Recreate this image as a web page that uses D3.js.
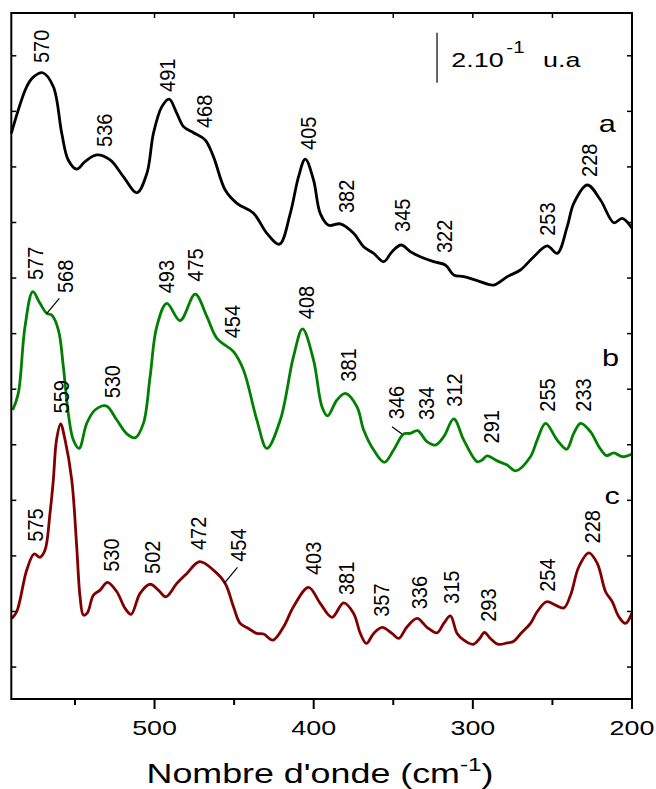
<!DOCTYPE html>
<html><head><meta charset="utf-8">
<script src="https://cdn.jsdelivr.net/npm/d3@7/dist/d3.min.js"></script>
<style>body{margin:0;background:#fff}svg{display:block}text{font-family:"Liberation Sans",Arial,sans-serif;fill:#000}</style>
</head><body><svg id="c" width="656" height="789"></svg>
<script>
// ---- data: [wavenumber (cm-1), intensity (u.a.)] ----
const seriesA = [[590,1.921],[580.3,2.089],[576.2,2.123],[570.3,2.139],[563.6,2.089],[558.3,1.921],[554.2,1.825],[548.9,1.792],[543.7,1.819],[536.3,1.843],[527.9,1.825],[519.6,1.765],[511.1,1.707],[504.8,1.777],[500.7,1.921],[495.4,2.017],[490.8,2.044],[486,1.993],[481.8,1.945],[475.5,1.923],[468.2,1.897],[463,1.837],[455.6,1.717],[448.2,1.669],[437.8,1.633],[429.4,1.561],[421.5,1.522],[414.7,1.633],[409.5,1.765],[405.3,1.828],[400.1,1.753],[395.9,1.633],[390.6,1.590],[383.3,1.595],[374.9,1.561],[368.6,1.513],[362.3,1.489],[356,1.459],[350.8,1.495],[345,1.519],[339.3,1.495],[333,1.477],[324.6,1.459],[317.3,1.447],[312,1.411],[305.7,1.405],[297.3,1.391],[286.9,1.375],[278.4,1.405],[270.1,1.429],[261.7,1.477],[253.3,1.516],[247,1.489],[240.7,1.585],[236.6,1.669],[228.1,1.735],[219.8,1.681],[211.4,1.599],[206.1,1.615],[200,1.579]];
const seriesB = [[589.1,0.925],[585.6,0.985],[581.4,1.225],[576.5,1.351],[572,1.309],[567.7,1.273],[564.6,1.267],[560.4,1.213],[557.3,1.081],[554.2,0.913],[551,0.817],[547.4,0.787],[542.6,0.877],[537.4,0.925],[530.4,0.940],[523.7,0.889],[517.4,0.839],[512.2,0.825],[507,0.877],[502.8,1.045],[498.6,1.225],[492.3,1.309],[483.9,1.247],[474.5,1.342],[467.1,1.261],[460.8,1.183],[450.4,1.135],[444.1,1.069],[435.7,0.889],[429.4,0.787],[421,0.889],[412.7,1.117],[407,1.217],[400.1,1.105],[394.8,0.937],[391.3,0.904],[385.4,0.961],[380.1,0.985],[372.8,0.937],[368.6,0.853],[362.3,0.781],[355.6,0.737],[349.8,0.781],[343.5,0.839],[339.3,0.841],[334.7,0.851],[328.8,0.811],[323.5,0.799],[318.3,0.829],[312,0.893],[305.7,0.817],[297.3,0.739],[294.2,0.745],[291,0.760],[284.7,0.742],[278.4,0.727],[273.2,0.706],[263.8,0.757],[259.6,0.817],[254.3,0.877],[247,0.817],[241.1,0.784],[236.6,0.841],[232.3,0.877],[226.1,0.847],[220.8,0.793],[216,0.761],[211.4,0.771],[206.1,0.757],[200,0.767]];
const seriesC = [[589.7,0.175],[586.6,0.199],[580.3,0.349],[575.7,0.407],[572,0.395],[568.8,0.421],[565.7,0.553],[563.6,0.673],[561.6,0.817],[559,0.875],[556.2,0.817],[552,0.673],[548.9,0.433],[546.8,0.253],[544.7,0.187],[542.2,0.195],[538.4,0.259],[534.2,0.277],[529.6,0.305],[523.7,0.271],[518.5,0.211],[514.7,0.190],[509.1,0.265],[502.8,0.298],[497.6,0.277],[492.9,0.253],[486,0.301],[479.7,0.337],[471.8,0.379],[463,0.349],[455.6,0.301],[450.4,0.217],[446.2,0.157],[441,0.139],[435.7,0.121],[431.5,0.119],[425.6,0.097],[418.9,0.145],[412.7,0.217],[403.2,0.287],[395.9,0.229],[388.5,0.179],[381.2,0.231],[374.9,0.193],[370.7,0.121],[366.9,0.085],[362.3,0.121],[357,0.143],[350.8,0.121],[346.6,0.103],[341.3,0.145],[335,0.175],[328.8,0.143],[322.5,0.123],[318.3,0.157],[314.1,0.184],[309.9,0.121],[305.7,0.097],[299.8,0.082],[295.7,0.103],[292.7,0.125],[289,0.103],[284.1,0.082],[278.4,0.087],[274.3,0.093],[270.1,0.119],[263.8,0.157],[259.6,0.199],[253.7,0.235],[248.1,0.223],[242.8,0.213],[238.6,0.259],[233.4,0.361],[227.1,0.411],[221.8,0.373],[216.6,0.271],[212.4,0.235],[208.3,0.181],[204.1,0.157],[200,0.195]];

const labelsA = [["570",571.3,2.174],["536",531.7,1.872],["491",491.8,2.070],["468",469,1.940],["405",403.7,1.861],["382",379.8,1.634],["345",344.3,1.566],["322",318,1.490],["253",253.3,1.552],["228",226.7,1.764]];
const labelsB = [["577",575.1,1.393],["568",556.2,1.346],["530",526.9,0.967],["493",492.5,1.345],["475",474.5,1.387],["454",451.4,1.183],["408",405,1.252],["381",378.2,1.027],["346",348.2,0.892],["334",329.3,0.889],["312",312,0.937],["291",288.3,0.805],["255",253.5,0.919],["233",230.5,0.919]];
const labelsC = [["559",558.9,0.913],["575",575.1,0.451],["530",527.4,0.343],["502",501.2,0.335],["472",472.4,0.421],["454",447.2,0.379],["403",400.3,0.331],["381",379.3,0.259],["357",357.9,0.181],["336",333.7,0.208],["315",313.5,0.227],["293",290.3,0.163],["254",253.5,0.271],["228",224.8,0.445]];
const leaders = [[[567.7,1.273],[559.8,1.327]],[[350.8,0.865],[344.5,0.839]],[[456.2,0.301],[447.9,0.359]]];
const curveNames = [["a",215.6,1.927],["b",213.5,1.084],["c",212.4,0.587]];
const xMajorTicks = [500,400,300,200];
const xMinorTicks = [550,450,350,250];
const yTicks = d3.range(0,2.21,0.2);
const scaleBar = {w:322.5, v0:2.103, v1:2.283, textW:313.5, textV:2.161};

// ---- drawing ----
const svg = d3.select("#c");
const L=11.3, R=632, T=13, B=699, SX=1.28;
const x = d3.scaleLinear().domain([590,200]).range([L,R]);
const y = d3.scaleLinear().domain([-0.115,2.354]).range([B,T]);

function htext(px,py,str,size,anchor){
  const g = svg.append("g").attr("transform",`translate(${px},${py}) scale(${SX},1)`);
  return g.append("text").attr("text-anchor",anchor||"start").attr("font-size",size).text(str);
}

const line = d3.line().x(d=>x(d[0])).y(d=>y(d[1])).curve(d3.curveCatmullRom.alpha(0.5));
[[seriesA,"#000000"],[seriesB,"#008000"],[seriesC,"#800000"]].forEach(([s,c])=>{
  svg.append("path").datum(s).attr("d",line).attr("fill","none").attr("stroke",c).attr("stroke-width",2.8).attr("stroke-linejoin","round");
});

// peak labels
[labelsA,labelsB,labelsC].forEach(ls=>ls.forEach(([t,w,v])=>{
  svg.append("text").attr("transform",`translate(${x(w)},${y(v)}) scale(1.1,1) rotate(-90)`)
    .attr("text-anchor","start").attr("dominant-baseline","central").attr("font-size",20).text(t);
}));
leaders.forEach(([a,b])=>svg.append("line").attr("x1",x(a[0])).attr("y1",y(a[1])).attr("x2",x(b[0])).attr("y2",y(b[1])).attr("stroke","#000").attr("stroke-width",1.2));
curveNames.forEach(([t,w,v])=>htext(x(w),y(v),t,24,"middle"));

// scale bar
svg.append("line").attr("x1",x(scaleBar.w)).attr("x2",x(scaleBar.w)).attr("y1",y(scaleBar.v0)).attr("y2",y(scaleBar.v1)).attr("stroke","#333").attr("stroke-width",1.5);
const sx0=x(scaleBar.textW), sy0=y(scaleBar.textV);
htext(sx0,sy0,"2.10",21);
htext(sx0+55,sy0-13.5,"-1",16);
htext(sx0+91.7,sy0,"u.a",21);

// frame
svg.append("rect").attr("x",L).attr("y",T).attr("width",R-L).attr("height",B-T).attr("fill","none").attr("stroke","#000").attr("stroke-width",2);
// ticks
yTicks.forEach(v=>{
  svg.append("line").attr("x1",L).attr("x2",L+5).attr("y1",y(v)).attr("y2",y(v)).attr("stroke","#000").attr("stroke-width",1.5);
  svg.append("line").attr("x1",R-5).attr("x2",R).attr("y1",y(v)).attr("y2",y(v)).attr("stroke","#000").attr("stroke-width",1.5);
});
xMajorTicks.concat(xMinorTicks).forEach(w=>{
  svg.append("line").attr("x1",x(w)).attr("x2",x(w)).attr("y1",T).attr("y2",T+5).attr("stroke","#000").attr("stroke-width",1.5);
});
xMajorTicks.forEach(w=>{
  svg.append("line").attr("x1",x(w)).attr("x2",x(w)).attr("y1",B).attr("y2",B+10).attr("stroke","#000").attr("stroke-width",2);
  htext(x(w),735,String(w),21,"middle");
});
xMinorTicks.forEach(w=>svg.append("line").attr("x1",x(w)).attr("x2",x(w)).attr("y1",B).attr("y2",B+6).attr("stroke","#000").attr("stroke-width",2));

// axis title
const tt = htext(320,783,"",28,"middle");
tt.append("tspan").text("Nombre d'onde (cm");
tt.append("tspan").attr("font-size",19).attr("dy",-12).text("-1");
tt.append("tspan").attr("dy",12).text(")");
</script></body></html>
